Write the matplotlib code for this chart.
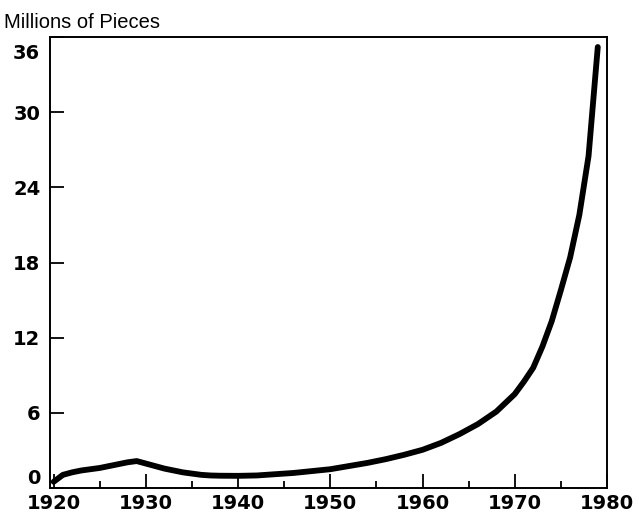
import matplotlib.pyplot as plt
from matplotlib.ticker import MultipleLocator
from matplotlib.transforms import ScaledTranslation

# values (millions of pieces)
years = [1920, 1921, 1922, 1923, 1924, 1925, 1926, 1927, 1928, 1929,
         1930, 1931, 1932, 1933, 1934, 1935, 1936, 1937, 1938, 1940,
         1942, 1944, 1946, 1948, 1950, 1952, 1954, 1956, 1958, 1960,
         1962, 1964, 1966, 1968, 1970, 1971, 1972, 1973, 1974, 1975,
         1976, 1977, 1978, 1979]
pieces = [0.5, 1.05, 1.25, 1.4, 1.5, 1.6, 1.75, 1.9, 2.05, 2.15,
          1.95, 1.75, 1.55, 1.4, 1.25, 1.15, 1.05, 1.0, 0.98, 0.97,
          1.0, 1.1, 1.2, 1.35, 1.5, 1.75, 2.0, 2.3, 2.65, 3.05,
          3.6, 4.3, 5.1, 6.1, 7.5, 8.5, 9.6, 11.3, 13.3, 15.8,
          18.4, 21.8, 26.5, 35.2]

y_ticks = [0, 6, 12, 18, 24, 30, 36]
x_ticks = [1920, 1930, 1940, 1950, 1960, 1970, 1980]


def main():
    fig = plt.figure(figsize=(6.39, 5.14), dpi=100)
    ax = fig.add_axes([50 / 639, 26 / 514, 557 / 639, 451 / 514])

    ax.plot(years, pieces, color='black', lw=4.2, solid_capstyle='round',
            solid_joinstyle='round')

    ax.set_xlim(1919.6, 1979.8)
    ax.set_ylim(0, 36)
    ax.set_xticks(x_ticks)
    ax.set_yticks(y_ticks)
    ax.xaxis.set_minor_locator(MultipleLocator(5))

    for s in ax.spines.values():
        s.set_linewidth(1.4)

    ax.tick_params(axis='both', which='major', direction='in', width=1.3,
                   labelsize=14, colors='black')
    ax.tick_params(axis='x', which='major', length=10, pad=4)
    ax.tick_params(axis='x', which='minor', direction='in', length=5, width=1.3)
    ax.tick_params(axis='y', which='major', length=10, pad=7)
    ax.tick_params(top=False, right=False)

    for lab in ax.get_xticklabels() + ax.get_yticklabels():
        lab.set_fontweight('bold')
        lab.set_fontfamily('DejaVu Sans')

    # bottom and top y labels sit inside the frame
    ylabs = ax.get_yticklabels()
    ylabs[0].set_transform(ylabs[0].get_transform() +
                           ScaledTranslation(0, 12 / 100, fig.dpi_scale_trans))
    ylabs[-1].set_transform(ylabs[-1].get_transform() +
                            ScaledTranslation(0, -14 / 100, fig.dpi_scale_trans))

    fig.text(4 / 639, 1 - 22 / 514, 'Millions of Pieces', fontsize=14.5,
             family='Liberation Sans', va='center', ha='left')

    fig.savefig('out.png', dpi=100)


if __name__ == "__main__":
    main()
